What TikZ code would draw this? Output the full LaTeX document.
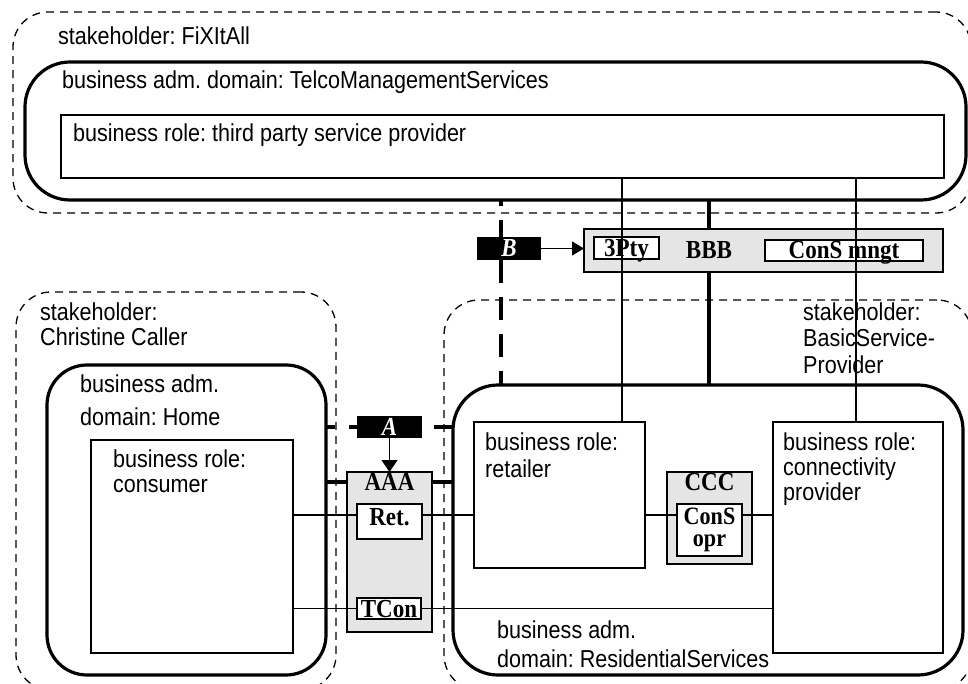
\documentclass[tikz,border=0pt]{standalone}
\usepackage{fontspec}
\setmainfont{Liberation Sans}[FakeStretch=0.88]
\newfontfamily\objfont{Liberation Serif}[FakeStretch=0.885]
\usetikzlibrary{arrows.meta}
\frenchspacing

\newcommand{\lblfont}[1]{\fontsize{24.5}{#1}\selectfont}
\newcommand{\objtext}{\objfont\bfseries\fontsize{26}{20}\selectfont}

\tikzset{
  boxsize/.style 2 args={minimum width=#1pt, minimum height=#2pt},
  stakeholder/.style={draw, line width=1.3pt, dash pattern=on 8pt off 6pt, rounded corners=35pt, inner sep=0pt, outer sep=0pt},
  admdomain/.style={draw, line width=3.2pt, rounded corners=45pt, inner sep=0pt, outer sep=0pt},
  role/.style={draw, line width=1.4pt, inner sep=0pt, outer sep=0pt},
  object/.style={draw, line width=1.4pt, fill=black!10, inner sep=0pt, outer sep=0pt},
  iface/.style={draw, line width=1.6pt, fill=white, inner sep=0pt, outer sep=0pt, font=\objtext},
  oneline/.style={text height=17pt, text depth=0pt},
  refpoint/.style={fill=black, text=white, inner sep=0pt, outer sep=0pt, font=\objtext\itshape, oneline},
  lbl/.style={anchor=base west, align=left, inner sep=0pt},
  objlbl/.style={inner sep=0pt, font=\objtext, oneline},
  link/.style={line width=1.3pt},
  bond/.style={line width=3.2pt},
  refline/.style={line width=3.2pt, dash pattern=on 23pt off 14pt}
}

\begin{document}
\begin{tikzpicture}[x=1pt,y=-1pt]
  \useasboundingbox (0,0) rectangle (968,684);
  % stakeholders
  \node[stakeholder, boxsize={958}{201}] (fixitall) at (492,112.5) {};
  \node[stakeholder, boxsize={320}{398}] (christine) at (176,491) {};
  \node[stakeholder, boxsize={528}{390}] (basicsp) at (708,495) {};
  % business administrative domains
  \node[admdomain, boxsize={941}{138}] (telco) at (495.5,131) {};
  \node[admdomain, rounded corners=40pt, boxsize={279}{310}] (home) at (186.5,520) {};
  \node[admdomain, boxsize={510}{290}] (residential) at (708,530) {};
  % business roles
  \node[role, boxsize={883}{63}] (thirdparty) at (502.5,146.5) {};
  \node[role, boxsize={202}{213}] (consumer) at (192,546.5) {};
  \node[role, boxsize={171}{146}] (retailer) at (559.5,495) {};
  \node[role, boxsize={170}{231}] (connectivity) at (858,537.5) {};
  % objects and interfaces
  \node[object, boxsize={359}{43}] (bbb) at (763.5,250.5) {};
  \node[objlbl] (bbblbl) at (709,250) {BBB};
  \node[iface, oneline, boxsize={65}{22}] (threepty) at (626.5,248) {3Pty};
  \node[iface, oneline, boxsize={158}{21}] (consmngt) at (844,250.5) {ConS mngt};
  \node[object, boxsize={85}{160}] (aaa) at (389.5,552) {};
  \node[objlbl] (aaalbl) at (389.5,482) {AAA};
  \node[iface, oneline, text depth=9pt, boxsize={65}{35}] (ret) at (389.5,521.5) {Ret.};
  \node[iface, oneline, boxsize={64}{21}] (tcon) at (389,608.5) {TCon};
  \node[object, boxsize={85}{92}] (ccc) at (709.5,518) {};
  \node[objlbl] (ccclbl) at (709.5,482) {CCC};
  \node[iface, align=center, font=\objfont\bfseries\fontsize{25}{22}\selectfont, boxsize={65}{52}] (consopr) at (709.5,530) {ConS\\opr};
  % reference points
  \node[refpoint, boxsize={64}{23}] (refB) at (509,248.5) {B};
  \node[refpoint, boxsize={65}{22}] (refA) at (389.5,427) {A};
  % labels (base = last line)
  \node[lbl, font=\lblfont{27}] (fixlbl) at (58,45) {stakeholder: FiXItAll};
  \node[lbl, font=\lblfont{27}] (telcolbl) at (62,89) {business adm. domain: TelcoManagementServices};
  \node[lbl, font=\lblfont{27}] (thirdlbl) at (73,142) {business role: third party service provider};
  \node[lbl, font=\lblfont{25}] (chrlbl) at (40,345) {stakeholder:\\Christine Caller};
  \node[lbl, font=\lblfont{33}] (homelbl) at (80,425) {business adm.\\domain: Home};
  \node[lbl, font=\lblfont{25}] (consumerlbl) at (113,492) {business role:\\consumer};
  \node[lbl, font=\lblfont{26.5}] (bsplbl) at (803,373) {stakeholder:\\BasicService-\\Provider};
  \node[lbl, font=\lblfont{27}] (retailerlbl) at (485,477) {business role:\\retailer};
  \node[lbl, font=\lblfont{25}] (connlbl) at (783,500) {business role:\\connectivity\\provider};
  \node[lbl, font=\lblfont{29}] (resilbl) at (497,667) {business adm.\\domain: ResidentialServices};
  % connectors
  \coordinate (retx) at (622,0);
  \coordinate (conx) at (856,0);
  \coordinate (refx) at (501,0);
  \coordinate (retlvl) at (0,515);
  \draw[bond] (telco.south -| bbblbl) -- (bbb.north -| bbblbl);
  \draw[bond] (bbb.south -| bbblbl) -- (residential.north -| bbblbl);
  \draw[refline, dash phase=17pt] (telco.south -| refx) -- (refB.north -| refx);
  \draw[refline] (refB.south -| refx) -- (residential.north -| refx);
  \draw[refline, dash pattern=on 20pt off 14pt, dash phase=11pt] (home.east |- refA) -- (refA.west);
  \draw[refline, dash pattern=on 20pt off 14pt, dash phase=22pt] (refA.east) -- (residential.west |- refA);
  \draw[link, -{Triangle[length=12pt,width=14pt]}] (refB.east) -- (refB.east -| bbb.west);
  \draw[link, -{Triangle[length=12pt,width=16pt]}] (refA.south) -- (refA.south |- aaa.north);
  \draw[link] (thirdparty.south -| retx) -- (retailer.north -| retx);
  \draw[link] (thirdparty.south -| conx) -- (connectivity.north -| conx);
  \draw[bond] (home.east |- aaalbl) -- (aaa.west |- aaalbl);
  \draw[bond] (aaa.east |- aaalbl) -- (residential.west |- aaalbl);
  \draw[link] (consumer.east |- retlvl) -- (ret.west |- retlvl);
  \draw[link] (ret.east |- retlvl) -- (retailer.west |- retlvl);
  \draw[link] (retailer.east |- retlvl) -- (consopr.west |- retlvl);
  \draw[link] (consopr.east |- retlvl) -- (connectivity.west |- retlvl);
  \draw[link] (consumer.east |- tcon) -- (tcon.west);
  \draw[link] (tcon.east) -- (connectivity.west |- tcon);
\end{tikzpicture}
\end{document}
